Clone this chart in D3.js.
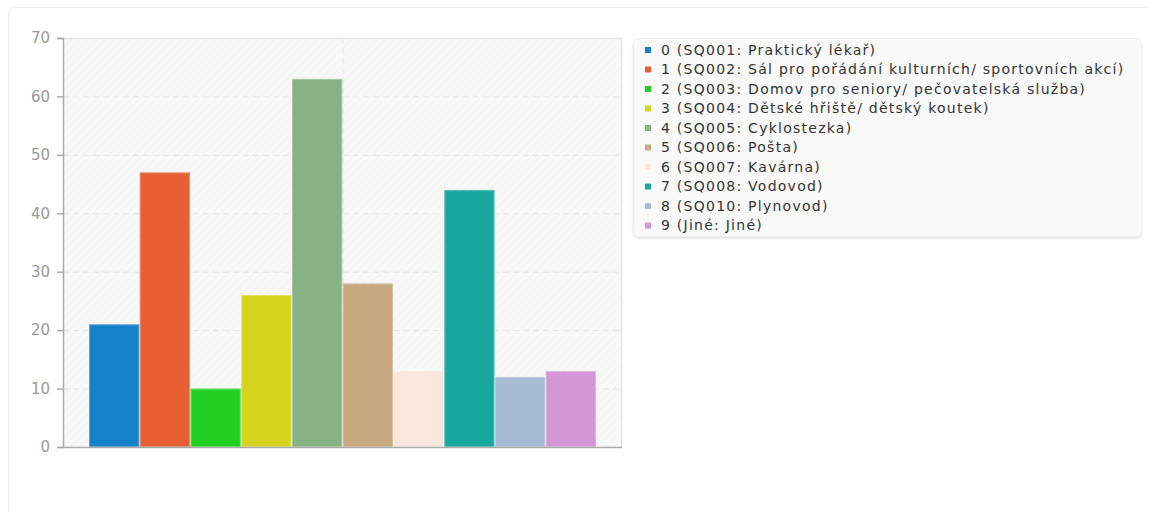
<!DOCTYPE html>
<html>
<head>
<meta charset="utf-8">
<script src="https://cdn.jsdelivr.net/npm/d3@7"></script>
<style>
  html, body { margin: 0; padding: 0; background: #fff; }
  svg { display: block; }
</style>
</head>
<body>
<svg id="chart" width="1149" height="511"></svg>
<script>
const codes = ['0', '1', '2', '3', '4', '5', '6', '7', '8', '9']
const labels = [
    'SQ001: Praktický lékař',
    'SQ002: Sál pro pořádání kulturních/ sportovních akcí',
    'SQ003: Domov pro seniory/ pečovatelská služba',
    'SQ004: Dětské hřiště/ dětský koutek',
    'SQ005: Cyklostezka',
    'SQ006: Pošta',
    'SQ007: Kavárna',
    'SQ008: Vodovod',
    'SQ010: Plynovod',
    'Jiné: Jiné'
]
const counts = [21, 47, 10, 26, 63, 28, 13, 44, 12, 13]
const colors = ['#1581c8', '#e75f33', '#22d022', '#d4d41e', '#87b283',
    '#c8a982', '#fbe6dd', '#17a79f', '#a7bad3', '#d196d3']
const yTicks = [0, 10, 20, 30, 40, 50, 60, 70]

const svg = d3.select('#chart')
const font = '"DejaVu Sans", sans-serif'

// card frame
svg.append('rect')
    .attr('x', 8.5).attr('y', 7.5)
    .attr('width', 1160).attr('height', 520)
    .attr('rx', 6)
    .attr('fill', '#fff')
    .attr('stroke', '#ececec')

const plot = { left: 63, top: 38, right: 622, bottom: 447 }

const defs = svg.append('defs')
const pat = defs.append('pattern')
    .attr('id', 'hatch')
    .attr('width', 6).attr('height', 6)
    .attr('patternUnits', 'userSpaceOnUse')
    .attr('patternTransform', 'rotate(45)')
pat.append('rect').attr('width', 6).attr('height', 6).attr('fill', '#f8f8f8')
pat.append('line')
    .attr('x1', 0).attr('y1', 0).attr('x2', 0).attr('y2', 6)
    .attr('stroke', '#eeeeee').attr('stroke-width', 1.2)

const y = d3.scaleLinear().domain([0, 70]).range([plot.bottom, plot.top])
const x = d3.scaleBand()
    .domain(codes)
    .range([plot.left + 26, plot.right - 26])
    .paddingInner(0.01)

const g = svg.append('g')

// plot background
g.append('rect')
    .attr('x', plot.left).attr('y', plot.top)
    .attr('width', plot.right - plot.left).attr('height', plot.bottom - plot.top)
    .attr('fill', 'url(#hatch)')

// grid lines
g.selectAll('.hgrid')
    .data(yTicks.filter(d => d > 0 && d < 70))
    .join('line')
    .attr('x1', plot.left).attr('x2', plot.right)
    .attr('y1', d => y(d) + 0.5).attr('y2', d => y(d) + 0.5)
    .attr('stroke', '#e4e4e4')
    .attr('stroke-dasharray', '6,4')

g.append('line')
    .attr('x1', (plot.left + plot.right) / 2 + 0.5)
    .attr('x2', (plot.left + plot.right) / 2 + 0.5)
    .attr('y1', plot.top).attr('y2', plot.bottom)
    .attr('stroke', '#e4e4e4')
    .attr('stroke-dasharray', '6,4')

// plot border top / right
g.append('path')
    .attr('d', `M${plot.left},${plot.top + 0.5}H${plot.right - 0.5}V${plot.bottom}`)
    .attr('fill', 'none')
    .attr('stroke', '#e2e2e2')
    .attr('stroke-width', 1.5)

// bars
g.selectAll('.bar')
    .data(counts)
    .join('rect')
    .attr('x', (d, i) => x(codes[i]))
    .attr('y', d => y(d))
    .attr('width', x.bandwidth())
    .attr('height', d => plot.bottom - y(d))
    .attr('fill', (d, i) => colors[i])
g.selectAll('.barEdge')
    .data(counts)
    .join('rect')
    .attr('x', (d, i) => x(codes[i]) + 0.5)
    .attr('y', d => y(d) + 0.5)
    .attr('width', x.bandwidth() - 1)
    .attr('height', d => plot.bottom - y(d) - 1)
    .attr('fill', 'none')
    .attr('stroke', '#fff')
    .attr('stroke-opacity', 0.3)

// y axis
const yAxis = d3.axisLeft(y).tickValues(yTicks).tickSize(6).tickPadding(7)
const ya = g.append('g')
    .attr('transform', `translate(${plot.left},0)`)
    .call(yAxis)
ya.select('.domain').attr('stroke', '#aaa').attr('stroke-width', 1.5)
ya.selectAll('.tick line').attr('stroke', '#aaa').attr('stroke-width', 1.5)
ya.selectAll('.tick text')
    .attr('fill', '#999')
    .style('font', `15px ${font}`)

// x axis line
g.append('line')
    .attr('x1', plot.left).attr('x2', plot.right)
    .attr('y1', plot.bottom + 0.5).attr('y2', plot.bottom + 0.5)
    .attr('stroke', '#aaa').attr('stroke-width', 1.5)

// legend
const lg = svg.append('g')
defs.append('filter').attr('id', 'shadow')
    .append('feDropShadow')
    .attr('dx', 0).attr('dy', 1.5).attr('stdDeviation', 1.2)
    .attr('flood-color', '#000').attr('flood-opacity', 0.12)
lg.append('rect')
    .attr('x', 633.5).attr('y', 38.5)
    .attr('width', 508).attr('height', 198)
    .attr('rx', 5)
    .attr('fill', '#f9f9f9')
    .attr('stroke', '#eee')
    .attr('filter', 'url(#shadow)')

const rows = lg.selectAll('.row')
    .data(codes)
    .join('g')
    .attr('transform', (d, i) => `translate(645,${50 + i * 19.5})`)
rows.append('rect')
    .attr('x', 0).attr('y', -3)
    .attr('width', 6).attr('height', 6)
    .attr('fill', (d, i) => colors[i])
rows.append('text')
    .attr('x', 16).attr('dy', '0.35em')
    .attr('fill', '#333')
    .style('font', `14px ${font}`)
    .style('letter-spacing', '1.25px')
    .text((d, i) => `${d} (${labels[i]})`)
</script>
</body>
</html>
